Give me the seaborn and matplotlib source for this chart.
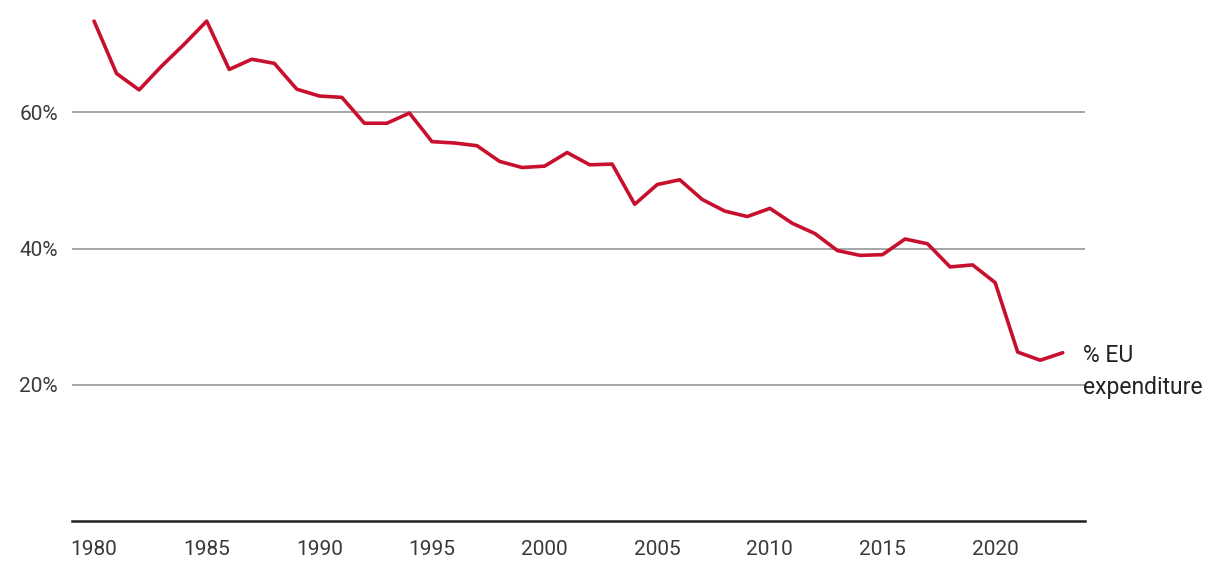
import matplotlib
matplotlib.use('Agg')
import matplotlib.pyplot as plt
import seaborn as sns
import pandas as pd

years = list(range(1980, 2024))
eu_share = [73.4, 65.7, 63.3, 66.8, 70.0, 73.4, 66.3, 67.8, 67.2, 63.4,
            62.4, 62.2, 58.4, 58.4, 59.9, 55.7, 55.5, 55.1, 52.8, 51.9,
            52.1, 54.1, 52.3, 52.4, 46.5, 49.4, 50.1, 47.2, 45.5, 44.7,
            45.9, 43.7, 42.2, 39.7, 39.0, 39.1, 41.4, 40.7, 37.3, 37.6,
            35.0, 24.8, 23.6, 24.7]
y_ticks = [20, 40, 60]
x_ticks = [1980, 1985, 1990, 1995, 2000, 2005, 2010, 2015, 2020]
series_label = '% EU\nexpenditure'

df = pd.DataFrame({'year': years, 'share': eu_share})

sns.set_style('white')
plt.rcParams['font.family'] = ['Roboto', 'DejaVu Sans']
plt.rcParams['font.weight'] = 'normal'

fig = plt.figure(figsize=(12.2, 5.84), dpi=100)
ax = fig.add_axes([0.059, 0.108, 0.830, 0.892])

sns.lineplot(data=df, x='year', y='share', color='#c8102e', linewidth=2.6, ax=ax)

ax.set_xlim(1979.02, 2023.97)
ax.set_ylim(0, 76.5)
ax.set_yticks(y_ticks)
ax.set_yticklabels([f'{t}%' for t in y_ticks])
ax.set_xticks(x_ticks)
ax.set_xlabel('')
ax.set_ylabel('')
ax.yaxis.grid(True, color='#a6a6a6', linewidth=1.4)
ax.set_axisbelow(True)
for s in ['top', 'right', 'left']:
    ax.spines[s].set_visible(False)
ax.spines['bottom'].set_color('#222222')
ax.spines['bottom'].set_linewidth(1.8)
ax.tick_params(axis='both', length=0, labelsize=15, colors='#3a3a3a')
ax.tick_params(axis='y', pad=10)
ax.tick_params(axis='x', pad=14)

ax.text(years[-1] + 0.92, 22.0, series_label, ha='left', va='center',
        fontsize=16.5, color='#222222', linespacing=1.5, clip_on=False)

fig.savefig('out.png', dpi=100)
